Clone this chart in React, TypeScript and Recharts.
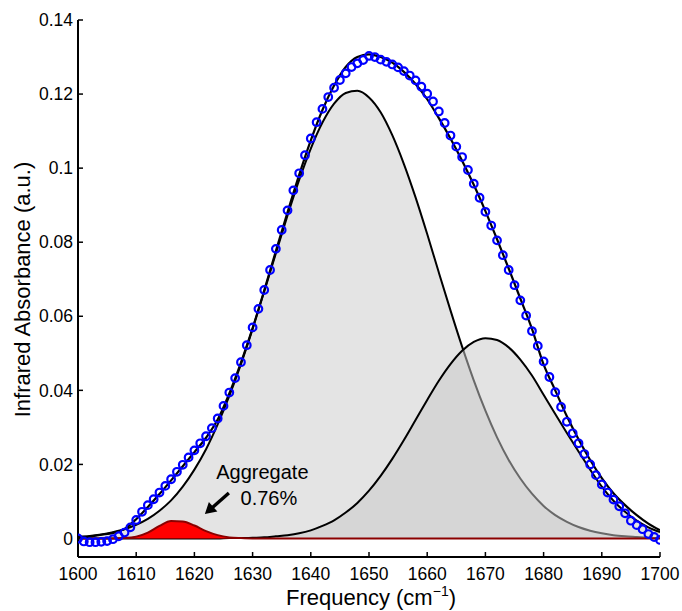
import React from 'react';
import { ComposedChart, Area, Line, Scatter, XAxis, YAxis, ReferenceDot, Label } from 'recharts';

// fitted curves, sampled every 2 cm-1
const fitFreq = [
  1600, 1602, 1604, 1606, 1608, 1610, 1612, 1614, 1616, 1618,
  1620, 1622, 1624, 1626, 1628, 1630, 1632, 1634, 1636, 1638,
  1640, 1642, 1644, 1646, 1648, 1650, 1652, 1654, 1656, 1658,
  1660, 1662, 1664, 1666, 1668, 1670, 1672, 1674, 1676, 1678,
  1680, 1682, 1684, 1686, 1688, 1690, 1692, 1694, 1696, 1698, 1700,
];

const peakMain = [
  0.0005, 0.0007, 0.0011, 0.0017, 0.0025, 0.0037, 0.0053, 0.0075, 0.0103, 0.0140,
  0.0186, 0.0241, 0.0308, 0.0385, 0.0471, 0.0566, 0.0667, 0.0770, 0.0872, 0.0968,
  0.1053, 0.1123, 0.1174, 0.1203, 0.1209, 0.1191, 0.1151, 0.1089, 0.1011, 0.0921,
  0.0822, 0.0718, 0.0616, 0.0518, 0.0427, 0.0345, 0.0273, 0.0212, 0.0162, 0.0121,
  0.0088, 0.0063, 0.0045, 0.0031, 0.0021, 0.0014, 0.0009, 0.0006, 0.0004, 0.0002, 0.0001,
];

const peakHigh = [
  0, 0, 0, 0, 0, 0, 0, 0, 0, 0,
  0, 0, 0, 0.0001, 0.0001, 0.0002, 0.0003, 0.0006, 0.0009, 0.0014,
  0.0022, 0.0034, 0.0049, 0.0070, 0.0096, 0.0129, 0.0169, 0.0215, 0.0266, 0.0320,
  0.0374, 0.0426, 0.0471, 0.0507, 0.0531, 0.0541, 0.0536, 0.0516, 0.0483, 0.0440,
  0.0388, 0.0336, 0.0285, 0.0235, 0.0186, 0.0140, 0.0102, 0.0072, 0.0048, 0.0030, 0.0017,
];

const peakAggregate = [
  0, 0, 0, 0, 0.0001, 0.0005, 0.0016, 0.0034, 0.0047, 0.0046,
  0.0035, 0.0020, 0.0009, 0.0003, 0.0001, 0, 0, 0, 0, 0,
  0, 0, 0, 0, 0, 0, 0, 0, 0, 0,
  0, 0, 0, 0, 0, 0, 0, 0, 0, 0,
  0, 0, 0, 0, 0, 0, 0, 0, 0, 0, 0,
];

const totalFit = [
  0.0000, 0.0005, 0.0010, 0.0015, 0.0026, 0.0052, 0.0085, 0.0120, 0.0157, 0.0195,
  0.0233, 0.0272, 0.0321, 0.0392, 0.0475, 0.0568, 0.0670, 0.0776, 0.0881, 0.0982,
  0.1075, 0.1157, 0.1223, 0.1273, 0.1300, 0.1307, 0.1300, 0.1285, 0.1260, 0.1227,
  0.1186, 0.1135, 0.1080, 0.1020, 0.0955, 0.0884, 0.0808, 0.0729, 0.0648, 0.0566,
  0.0470, 0.0400, 0.0330, 0.0268, 0.0212, 0.0163, 0.0122, 0.0090, 0.0063, 0.0040, 0.0022,
];

// measured spectrum, every 1 cm-1
const obsFreq = [
  1600, 1601, 1602, 1603, 1604, 1605, 1606, 1607, 1608, 1609,
  1610, 1611, 1612, 1613, 1614, 1615, 1616, 1617, 1618, 1619,
  1620, 1621, 1622, 1623, 1624, 1625, 1626, 1627, 1628, 1629,
  1630, 1631, 1632, 1633, 1634, 1635, 1636, 1637, 1638, 1639,
  1640, 1641, 1642, 1643, 1644, 1645, 1646, 1647, 1648, 1649,
  1650, 1651, 1652, 1653, 1654, 1655, 1656, 1657, 1658, 1659,
  1660, 1661, 1662, 1663, 1664, 1665, 1666, 1667, 1668, 1669,
  1670, 1671, 1672, 1673, 1674, 1675, 1676, 1677, 1678, 1679,
  1680, 1681, 1682, 1683, 1684, 1685, 1686, 1687, 1688, 1689,
  1690, 1691, 1692, 1693, 1694, 1695, 1696, 1697, 1698, 1699, 1700,
];

const observed = [
  0.0000, -0.0008, -0.0010, -0.0010, -0.0009, -0.0007, -0.0002, 0.0006, 0.0016, 0.0030,
  0.0050, 0.0072, 0.0090, 0.0106, 0.0124, 0.0142, 0.0160, 0.0180, 0.0199, 0.0219,
  0.0238, 0.0257, 0.0276, 0.0298, 0.0324, 0.0358, 0.0394, 0.0433, 0.0476, 0.0522,
  0.0570, 0.0620, 0.0671, 0.0725, 0.0782, 0.0833, 0.0886, 0.0940, 0.0986, 0.1035,
  0.1080, 0.1124, 0.1160, 0.1192, 0.1217, 0.1238, 0.1256, 0.1273, 0.1283, 0.1292,
  0.1303, 0.1300, 0.1293, 0.1287, 0.1280, 0.1272, 0.1262, 0.1250, 0.1237, 0.1220,
  0.1201, 0.1180, 0.1153, 0.1122, 0.1088, 0.1058, 0.1030, 0.0995, 0.0958, 0.0920,
  0.0882, 0.0845, 0.0805, 0.0765, 0.0725, 0.0684, 0.0643, 0.0602, 0.0560, 0.0520,
  0.0478, 0.0436, 0.0395, 0.0355, 0.0315, 0.0284, 0.0257, 0.0228, 0.0200, 0.0171,
  0.0146, 0.0124, 0.0105, 0.0087, 0.0068, 0.0048, 0.0036, 0.0025, 0.0012, 0.0004, -0.0004,
];

const xTicks = [1600, 1610, 1620, 1630, 1640, 1650, 1660, 1670, 1680, 1690, 1700];
const yTicks = [0, 0.02, 0.04, 0.06, 0.08, 0.1, 0.12, 0.14];

const rows = obsFreq.map((f, i) => {
  const j = fitFreq.indexOf(f);
  return {
    freq: f,
    obs: observed[i],
    main: j >= 0 ? peakMain[j] : undefined,
    high: j >= 0 ? peakHigh[j] : undefined,
    agg: j >= 0 ? peakAggregate[j] : undefined,
    total: j >= 0 ? totalFit[j] : undefined,
  };
});

const frame = { stroke: '#000', strokeWidth: 2 };
const tickLine = { stroke: '#000', strokeWidth: 1.5 };

const XTitle = (props: any) => {
  const vb = props.viewBox || { x: 78, width: 582, y: 557, height: 54 };
  return (
    <text x={vb.x + vb.width / 2 + 2} y={vb.y + 48} textAnchor="middle" fontSize={22} fill="#000">
      Frequency (cm<tspan dy={-9} fontSize={14}>−1</tspan>
      <tspan dy={9}>)</tspan>
    </text>
  );
};

const YTitle = (props: any) => {
  const vb = props.viewBox || { x: 0, width: 78, y: 20, height: 537 };
  const cx = 22;
  const cy = vb.y + vb.height / 2 + 1;
  return (
    <text
      x={cx}
      y={cy}
      transform={`rotate(-90, ${cx}, ${cy})`}
      textAnchor="middle"
      dominantBaseline="central"
      fontSize={22}
      fill="#000"
    >
      Infrared Absorbance (a.u.)
    </text>
  );
};

// arrow tip sits on the reference dot, text placed relative to it
const AggregateNote = (props: any) => {
  const { cx, cy } = props;
  return (
    <g>
      <line x1={cx + 24} y1={cy - 21} x2={cx + 7} y2={cy - 6} stroke="#000" strokeWidth={3.4} />
      <polygon
        points={`${cx},${cy} ${cx + 12.5},${cy - 2.5} ${cx + 4},${cy - 12}`}
        fill="#000"
      />
      <text x={cx + 57.5} y={cy - 35} textAnchor="middle" fontSize={20} fill="#000">
        Aggregate
      </text>
      <text x={cx + 64} y={cy - 9} textAnchor="middle" fontSize={20} fill="#000">
        0.76%
      </text>
    </g>
  );
};

const ObsCircle = (props: any) => (
  <circle cx={props.cx} cy={props.cy} r={3.8} fill="none" stroke="#0000ff" strokeWidth={2.2} />
);

const fmtY = (v: number) => (v === 0 ? '0' : String(Number(v.toFixed(2))));

export default function App() {
  return (
    <div
      style={{
        position: 'absolute',
        left: 0,
        top: 0,
        background: '#fff',
        fontFamily: '"Liberation Sans", Arial, sans-serif',
      }}
    >
      <ComposedChart width={682} height={611} data={rows} margin={{ top: 20, right: 22, bottom: 0, left: 0 }}>
        <XAxis
          dataKey="freq"
          type="number"
          domain={[1600, 1700]}
          ticks={xTicks}
          interval={0}
          allowDataOverflow
          height={54}
          tickSize={-5}
          tickMargin={16}
          axisLine={frame}
          tickLine={tickLine}
          tick={{ fontSize: 17.5, fill: '#000' }}
        >
          <Label content={XTitle} />
        </XAxis>
        <XAxis
          xAxisId="top"
          orientation="top"
          dataKey="freq"
          type="number"
          domain={[1600, 1700]}
          ticks={xTicks}
          interval={0}
          allowDataOverflow
          height={0}
          tickSize={-5}
          axisLine={frame}
          tickLine={tickLine}
          tick={false}
        />
        <YAxis
          type="number"
          domain={[-0.005, 0.14]}
          ticks={yTicks}
          interval={0}
          allowDataOverflow
          width={78}
          tickSize={-5}
          tickMargin={10}
          tickFormatter={fmtY}
          axisLine={frame}
          tickLine={tickLine}
          tick={{ fontSize: 17.5, fill: '#000' }}
        >
          <Label content={YTitle} />
        </YAxis>
        <YAxis
          yAxisId="right"
          orientation="right"
          type="number"
          domain={[-0.005, 0.14]}
          ticks={yTicks}
          interval={0}
          allowDataOverflow
          width={0}
          tickSize={-5}
          axisLine={frame}
          tickLine={tickLine}
          tick={false}
        />

        <Area
          dataKey="main"
          type="monotone"
          connectNulls
          fill="#e4e4e4"
          fillOpacity={1}
          stroke="#000"
          strokeWidth={2}
          dot={false}
          activeDot={false}
          isAnimationActive={false}
        />
        <Area
          dataKey="high"
          type="monotone"
          connectNulls
          fill="#c9c9c9"
          fillOpacity={0.52}
          stroke="#000"
          strokeWidth={2}
          dot={false}
          activeDot={false}
          isAnimationActive={false}
        />
        <Area
          dataKey="agg"
          type="monotone"
          connectNulls
          fill="#ff0000"
          fillOpacity={1}
          stroke="#8b0000"
          strokeWidth={2}
          dot={false}
          activeDot={false}
          isAnimationActive={false}
        />
        <Line
          dataKey="total"
          type="monotone"
          connectNulls
          stroke="#000"
          strokeWidth={2.2}
          dot={false}
          activeDot={false}
          isAnimationActive={false}
        />
        <Scatter dataKey="obs" shape={ObsCircle} isAnimationActive={false} />
        <ReferenceDot x={1621.8} y={0.0066} r={0} ifOverflow="visible" shape={AggregateNote} />
      </ComposedChart>
    </div>
  );
}
